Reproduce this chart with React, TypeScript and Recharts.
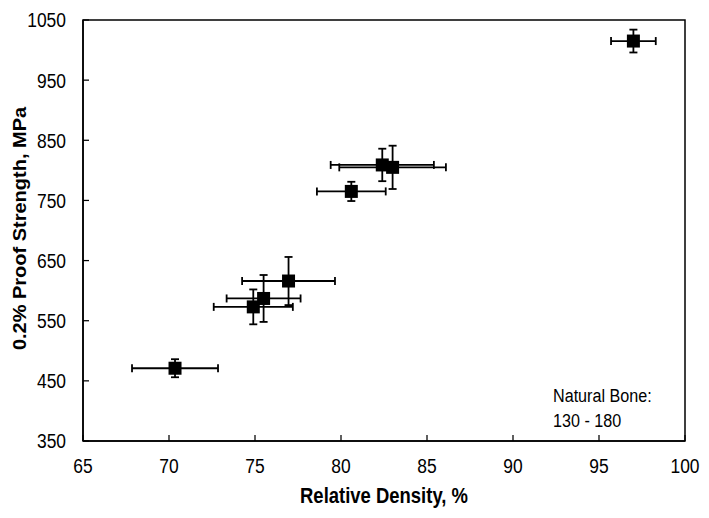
import React from 'react';
import {
  ScatterChart,
  Scatter,
  XAxis,
  YAxis,
  ErrorBar,
  ReferenceArea,
  Customized,
} from 'recharts';

// Relative density (%) of each sample
const densities = [70.35, 74.9, 75.5, 76.95, 80.6, 82.4, 83.0, 97.0];
// 0.2% proof strength (MPa)
const strengths = [471, 573, 587, 616, 765, 809, 805, 1015];
// Error (+/-) on density
const densityErr = [2.5, 2.3, 2.15, 2.7, 2.0, 3.0, 3.1, 1.3];
// Error (+/-) on strength
const strengthErr = [15, 29, 39, 40, 16, 27, 36, 19];

const xTicks = [65, 70, 75, 80, 85, 90, 95, 100];
const yTicks = [350, 450, 550, 650, 750, 850, 950, 1050];

const xTitle = 'Relative Density, %';
const yTitle = '0.2% Proof Strength, MPa';
const noteLines = ['Natural Bone:', '130 - 180'];

const data = densities.map((d, i) => ({
  x: d,
  y: strengths[i],
  ex: densityErr[i],
  ey: strengthErr[i],
}));

const SANS = '"Liberation Sans", Arial, sans-serif';
const SQUEEZE = 0.83;

// Narrow-looking tick label (scaled horizontally around its anchor)
const makeTick = (anchor: 'middle' | 'end', dyEm: string) => (props: any) => {
  const { x, y, payload } = props;
  return (
    <g transform={`translate(${x},${y})`}>
      <text
        transform={`scale(${SQUEEZE},1)`}
        textAnchor={anchor}
        dy={dyEm}
        fontFamily={SANS}
        fontSize={21}
        fill="#000"
      >
        {payload.value}
      </text>
    </g>
  );
};

const XTick = makeTick('middle', '0.71em');
const YTick = makeTick('end', '0.355em');

const XTitle = (props: any) => {
  const vb = props.viewBox || { x: 83, y: 441, width: 602, height: 77 };
  const cx = vb.x + vb.width / 2;
  const by = vb.y + vb.height - 15;
  return (
    <g transform={`translate(${cx},${by})`}>
      <text
        transform={`scale(0.84,1)`}
        textAnchor="middle"
        fontFamily={SANS}
        fontWeight="bold"
        fontSize={22}
        fill="#000"
      >
        {xTitle}
      </text>
    </g>
  );
};

const YTitle = (props: any) => {
  const vb = props.viewBox || { x: 0, y: 20, width: 83, height: 421 };
  const cx = vb.x + 20;
  const cy = vb.y + vb.height / 2 - 2;
  return (
    <g transform={`translate(${cx},${cy}) rotate(-90)`}>
      <text
        transform={`scale(1,0.9)`}
        textAnchor="middle"
        dy="0.355em"
        fontFamily={SANS}
        fontWeight="bold"
        fontSize={20}
        fill="#000"
      >
        {yTitle}
      </text>
    </g>
  );
};

const SquareMarker = (props: any) => {
  const { cx, cy } = props;
  if (cx == null || cy == null) return null;
  const s = 13;
  return <rect x={cx - s / 2} y={cy - s / 2} width={s} height={s} fill="#000" />;
};

const Note = () => (
  <g transform="translate(553,0)">
    {noteLines.map((t, i) => (
      <text
        key={i}
        transform={`scale(0.85,1)`}
        x={0}
        y={402 + i * 25}
        fontFamily={SANS}
        fontSize={19}
        fill="#000"
      >
        {t}
      </text>
    ))}
  </g>
);

export default function App() {
  return (
    <div style={{ position: 'absolute', left: 0, top: 0, width: 709, height: 518, background: '#fff' }}>
      <ScatterChart
        width={709}
        height={518}
        margin={{ top: 20, right: 24, bottom: 0, left: 0 }}
        style={{ fontFamily: SANS }}
      >
        <XAxis
          type="number"
          dataKey="x"
          domain={[65, 100]}
          ticks={xTicks}
          allowDataOverflow
          height={77}
          axisLine={{ stroke: '#000', strokeWidth: 1.5 }}
          tickLine={{ stroke: '#000', strokeWidth: 1.25 }}
          tickSize={-6}
          tickMargin={23}
          tick={XTick}
          label={<XTitle />}
        />
        <YAxis
          type="number"
          dataKey="y"
          domain={[350, 1050]}
          ticks={yTicks}
          allowDataOverflow
          width={83}
          axisLine={{ stroke: '#000', strokeWidth: 1.5 }}
          tickLine={{ stroke: '#000', strokeWidth: 1.25 }}
          tickSize={-6}
          tickMargin={23}
          tick={YTick}
          label={<YTitle />}
        />
        <ReferenceArea
          x1={65}
          x2={100}
          y1={350}
          y2={1050}
          fill="none"
          fillOpacity={0}
          stroke="#000"
          strokeWidth={1.5}
        />
        <Scatter data={data} fill="#000" shape={SquareMarker} isAnimationActive={false}>
          <ErrorBar dataKey="ex" direction="x" width={4} stroke="#000" strokeWidth={1.8} />
          <ErrorBar dataKey="ey" direction="y" width={4} stroke="#000" strokeWidth={1.8} />
        </Scatter>
        <Customized component={Note} />
      </ScatterChart>
    </div>
  );
}
